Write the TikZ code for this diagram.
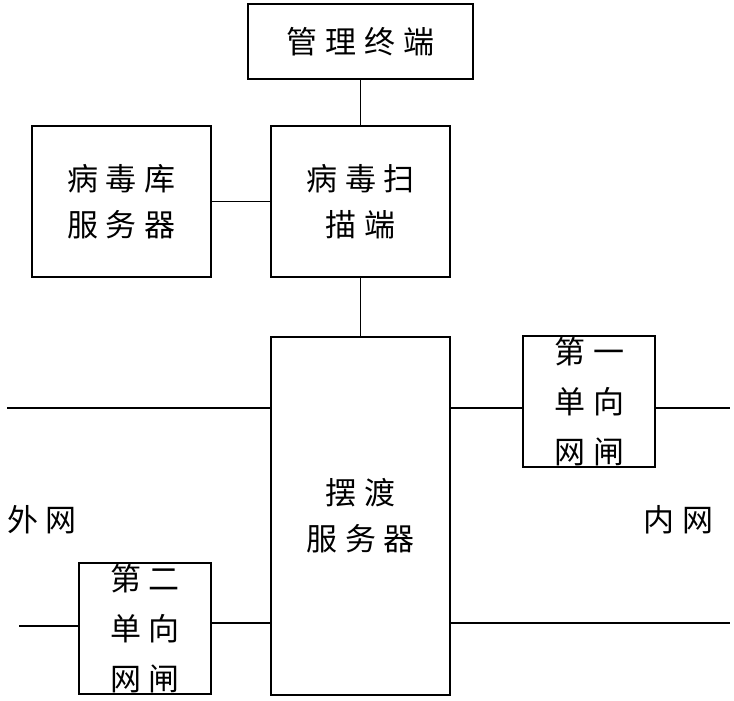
\documentclass[tikz,border=0pt]{standalone}
\usepackage{fontspec}
\setmainfont{Noto Sans CJK SC}
\newcommand{\gap}{\hspace{8pt}}
\begin{document}
\begin{tikzpicture}[x=1pt,y=-1pt,
  box/.style={draw,line width=1.6pt,inner sep=0pt,align=center,
    font=\fontsize{31}{46}\selectfont},
  gate/.style={box,minimum width=132pt,minimum height=131pt,
    font=\fontsize{31}{50}\selectfont},
  conn/.style={line width=1.6pt},
  lbl/.style={inner sep=0pt,font=\fontsize{31}{35}\selectfont}]
\useasboundingbox (0,0) rectangle (734,701);
\node[box,minimum width=225pt,minimum height=75pt] (mgmt) at (360.5,41.5) {管\gap 理\gap 终\gap 端};
\node[box,minimum width=179pt,minimum height=151pt] (scan) at (360.5,201.5) {病\gap 毒\gap 扫\\描\gap 端};
\node[box,minimum width=179pt,minimum height=151pt] (vlib) at (121.5,201.5) {病\gap 毒\gap 库\\服\gap 务\gap 器};
\node[box,minimum width=179pt,minimum height=358pt] (ferry) at (360.5,516) {摆\gap 渡\\服\gap 务\gap 器};
\node[gate] (gw1) at (589,401.5) {第\gap 一\\单\gap 向\\网\gap 闸};
\node[gate] (gw2) at (145,628.5) {第\gap 二\\单\gap 向\\网\gap 闸};
\node[lbl] (outer) at (42,520) {外\gap 网};
\node[lbl] (inner) at (678,520) {内\gap 网};
\coordinate (l1) at (7,408);
\coordinate (r1) at (730,408);
\coordinate (l2) at (19,626);
\coordinate (r2) at (730,623);
\draw[conn] (mgmt.south) -- (scan.north);
\draw[conn] (vlib.east) -- (scan.west);
\draw[conn] (scan.south) -- (ferry.north);
\draw[conn] (l1) -- (ferry.west |- l1);
\draw[conn] (ferry.east |- r1) -- (gw1.west |- r1);
\draw[conn] (gw1.east |- r1) -- (r1);
\draw[conn] (l2) -- (gw2.west |- l2);
\draw[conn] (gw2.east |- r2) -- (ferry.west |- r2);
\draw[conn] (ferry.east |- r2) -- (r2);
\end{tikzpicture}
\end{document}
